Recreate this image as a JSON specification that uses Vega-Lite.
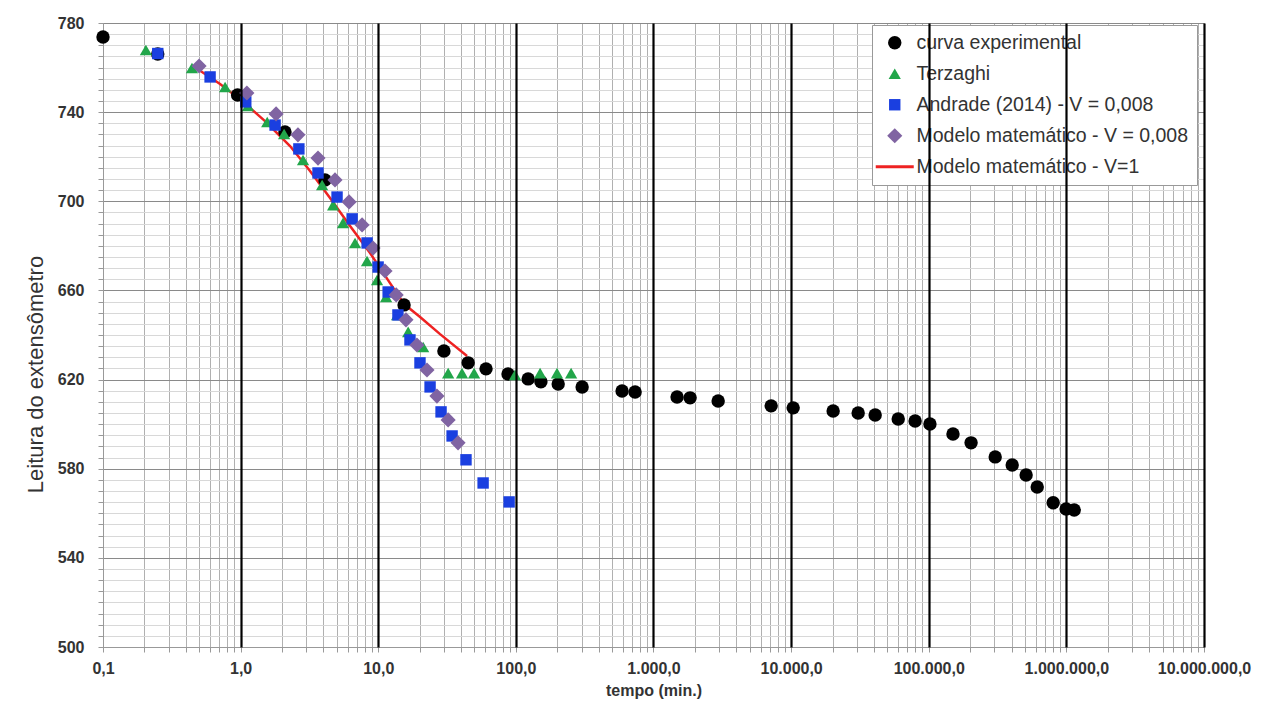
{
  "$schema": "https://vega.github.io/schema/vega-lite/v6.json",
  "width": 1101,
  "height": 624,
  "autosize": "none",
  "padding": {"left": 103, "top": 23, "right": 57, "bottom": 60},
  "background": "white",
  "config": {
    "locale": {"number": {"decimal": ",", "thousands": ".", "grouping": [3], "currency": ["R$", ""]}},
    "view": {"stroke": "#888888", "strokeWidth": 1},
    "font": "Liberation Sans"
  },
  "datasets": {
    "pts": [
      {"s": "curva experimental", "t": 0.1, "v": 773.7},
      {"s": "curva experimental", "t": 0.25, "v": 766.1},
      {"s": "curva experimental", "t": 0.95, "v": 747.7},
      {"s": "curva experimental", "t": 2.1, "v": 731.1},
      {"s": "curva experimental", "t": 4.1, "v": 709.6},
      {"s": "curva experimental", "t": 15.4, "v": 653.5},
      {"s": "curva experimental", "t": 30, "v": 632.8},
      {"s": "curva experimental", "t": 45, "v": 627.5},
      {"s": "curva experimental", "t": 60.7, "v": 624.8},
      {"s": "curva experimental", "t": 87.7, "v": 622.5},
      {"s": "curva experimental", "t": 122.8, "v": 620.3},
      {"s": "curva experimental", "t": 152, "v": 619.0},
      {"s": "curva experimental", "t": 203, "v": 618.0},
      {"s": "curva experimental", "t": 303, "v": 616.7},
      {"s": "curva experimental", "t": 591, "v": 614.9},
      {"s": "curva experimental", "t": 735, "v": 614.4},
      {"s": "curva experimental", "t": 1483, "v": 612.2},
      {"s": "curva experimental", "t": 1845, "v": 611.8},
      {"s": "curva experimental", "t": 2950, "v": 610.4},
      {"s": "curva experimental", "t": 7160, "v": 608.2},
      {"s": "curva experimental", "t": 10350, "v": 607.3},
      {"s": "curva experimental", "t": 20200, "v": 605.9},
      {"s": "curva experimental", "t": 30700, "v": 605.0},
      {"s": "curva experimental", "t": 40800, "v": 604.1},
      {"s": "curva experimental", "t": 60000, "v": 602.3},
      {"s": "curva experimental", "t": 79600, "v": 601.4},
      {"s": "curva experimental", "t": 102000, "v": 600.1},
      {"s": "curva experimental", "t": 150000, "v": 595.6},
      {"s": "curva experimental", "t": 203000, "v": 591.6},
      {"s": "curva experimental", "t": 304000, "v": 585.3},
      {"s": "curva experimental", "t": 404000, "v": 581.7},
      {"s": "curva experimental", "t": 510000, "v": 577.2},
      {"s": "curva experimental", "t": 614000, "v": 571.8},
      {"s": "curva experimental", "t": 802000, "v": 564.7},
      {"s": "curva experimental", "t": 996000, "v": 561.9},
      {"s": "curva experimental", "t": 1140000, "v": 561.5},
      {"s": "Terzaghi", "t": 0.205, "v": 767.9},
      {"s": "Terzaghi", "t": 0.443, "v": 759.8},
      {"s": "Terzaghi", "t": 0.771, "v": 751.3},
      {"s": "Terzaghi", "t": 1.13, "v": 742.8},
      {"s": "Terzaghi", "t": 1.56, "v": 735.6},
      {"s": "Terzaghi", "t": 2.07, "v": 730.2},
      {"s": "Terzaghi", "t": 2.84, "v": 718.5},
      {"s": "Terzaghi", "t": 3.91, "v": 707.3},
      {"s": "Terzaghi", "t": 4.7, "v": 698.3},
      {"s": "Terzaghi", "t": 5.55, "v": 690.3},
      {"s": "Terzaghi", "t": 6.78, "v": 681.3},
      {"s": "Terzaghi", "t": 8.29, "v": 673.2},
      {"s": "Terzaghi", "t": 9.8, "v": 664.7},
      {"s": "Terzaghi", "t": 11.4, "v": 657.1},
      {"s": "Terzaghi", "t": 13.7, "v": 649.0},
      {"s": "Terzaghi", "t": 16.5, "v": 641.4},
      {"s": "Terzaghi", "t": 21.2, "v": 634.6},
      {"s": "Terzaghi", "t": 32.2, "v": 622.9},
      {"s": "Terzaghi", "t": 40.6, "v": 622.9},
      {"s": "Terzaghi", "t": 49.7, "v": 622.9},
      {"s": "Terzaghi", "t": 98.6, "v": 622.1},
      {"s": "Terzaghi", "t": 150, "v": 622.9},
      {"s": "Terzaghi", "t": 199, "v": 622.9},
      {"s": "Terzaghi", "t": 252, "v": 622.9},
      {"s": "Andrade (2014) - V = 0,008", "t": 0.25, "v": 766.3},
      {"s": "Andrade (2014) - V = 0,008", "t": 0.6, "v": 755.8},
      {"s": "Andrade (2014) - V = 0,008", "t": 1.09, "v": 744.6},
      {"s": "Andrade (2014) - V = 0,008", "t": 1.78, "v": 734.2},
      {"s": "Andrade (2014) - V = 0,008", "t": 2.65, "v": 723.5},
      {"s": "Andrade (2014) - V = 0,008", "t": 3.65, "v": 712.7},
      {"s": "Andrade (2014) - V = 0,008", "t": 5.02, "v": 701.9},
      {"s": "Andrade (2014) - V = 0,008", "t": 6.46, "v": 692.1},
      {"s": "Andrade (2014) - V = 0,008", "t": 8.3, "v": 681.3},
      {"s": "Andrade (2014) - V = 0,008", "t": 9.98, "v": 670.5},
      {"s": "Andrade (2014) - V = 0,008", "t": 11.8, "v": 659.3},
      {"s": "Andrade (2014) - V = 0,008", "t": 13.9, "v": 649.0},
      {"s": "Andrade (2014) - V = 0,008", "t": 17.0, "v": 637.8},
      {"s": "Andrade (2014) - V = 0,008", "t": 20.1, "v": 627.5},
      {"s": "Andrade (2014) - V = 0,008", "t": 23.8, "v": 616.7},
      {"s": "Andrade (2014) - V = 0,008", "t": 28.6, "v": 605.5},
      {"s": "Andrade (2014) - V = 0,008", "t": 34.4, "v": 594.7},
      {"s": "Andrade (2014) - V = 0,008", "t": 43.4, "v": 584.0},
      {"s": "Andrade (2014) - V = 0,008", "t": 57.8, "v": 573.6},
      {"s": "Andrade (2014) - V = 0,008", "t": 89.3, "v": 565.1},
      {"s": "Modelo matemático - V = 0,008", "t": 0.499, "v": 760.7},
      {"s": "Modelo matemático - V = 0,008", "t": 1.11, "v": 748.6},
      {"s": "Modelo matemático - V = 0,008", "t": 1.81, "v": 739.2},
      {"s": "Modelo matemático - V = 0,008", "t": 2.61, "v": 729.8},
      {"s": "Modelo matemático - V = 0,008", "t": 3.65, "v": 719.4},
      {"s": "Modelo matemático - V = 0,008", "t": 4.85, "v": 709.6},
      {"s": "Modelo matemático - V = 0,008", "t": 6.14, "v": 699.7},
      {"s": "Modelo matemático - V = 0,008", "t": 7.63, "v": 689.4},
      {"s": "Modelo matemático - V = 0,008", "t": 9.17, "v": 679.0},
      {"s": "Modelo matemático - V = 0,008", "t": 11.2, "v": 668.7},
      {"s": "Modelo matemático - V = 0,008", "t": 13.5, "v": 658.0},
      {"s": "Modelo matemático - V = 0,008", "t": 15.9, "v": 646.8},
      {"s": "Modelo matemático - V = 0,008", "t": 19.1, "v": 635.5},
      {"s": "Modelo matemático - V = 0,008", "t": 22.6, "v": 624.3},
      {"s": "Modelo matemático - V = 0,008", "t": 26.7, "v": 612.6},
      {"s": "Modelo matemático - V = 0,008", "t": 32.2, "v": 601.9},
      {"s": "Modelo matemático - V = 0,008", "t": 38.0, "v": 591.6}
    ],
    "line": [
      {"t": 0.474, "v": 759.8},
      {"t": 0.709, "v": 752.6},
      {"t": 1.007, "v": 745.4},
      {"t": 1.504, "v": 736.0},
      {"t": 2.286, "v": 724.8},
      {"t": 3.195, "v": 713.6},
      {"t": 4.464, "v": 701.5},
      {"t": 6.24, "v": 688.9},
      {"t": 8.718, "v": 676.8},
      {"t": 12.18, "v": 663.3},
      {"t": 15.4, "v": 653.9},
      {"t": 20.13, "v": 648.1},
      {"t": 28.13, "v": 640.4},
      {"t": 44.19, "v": 630.6}
    ]
  },
  "encoding": {
    "y": {
      "field": "v",
      "type": "quantitative",
      "title": "Leitura do extensômetro",
      "scale": {"domain": [500, 780], "nice": false, "zero": false},
      "axis": {
        "values": [500,505,510,515,520,525,530,535,540,545,550,555,560,565,570,575,580,585,590,595,600,605,610,615,620,625,630,635,640,645,650,655,660,665,670,675,680,685,690,695,700,705,710,715,720,725,730,735,740,745,750,755,760,765,770,775,780],
        "labelExpr": "datum.value % 40 == 20 ? datum.label : ''",
        "labelOverlap": false,
        "labelFlush": false,
        "labelFont": "Liberation Sans",
        "labelFontWeight": "bold",
        "labelFontSize": 16,
        "labelColor": "#333333",
        "labelPadding": 14,
        "grid": true,
        "gridColor": {"condition": {"test": "datum.value % 40 == 20", "value": "#8a8a8a"}, "value": "#d8d8d8"},
        "ticks": true,
        "tickSize": 5,
        "tickColor": "#999999",
        "domainColor": "#999999",
        "titleFont": "Liberation Sans",
        "titleFontWeight": "normal",
        "titleFontSize": 22,
        "titleColor": "#333333",
        "titleX": -56,
        "titleY": 351
      }
    }
  },
  "layer": [
    {
      "data": {"name": "line"},
      "mark": {"type": "line", "color": "#ee2222", "strokeWidth": 2.5},
      "encoding": {
        "x": {
          "field": "t",
          "type": "quantitative",
          "title": null,
          "scale": {"type": "log", "domain": [0.1, 10000000], "nice": false},
          "axis": {
            "orient": "bottom",
            "values": [1, 10, 100, 1000, 10000, 100000, 1000000, 10000000],
            "labels": false,
            "ticks": false,
            "domain": false,
            "grid": true,
            "gridColor": "#000000",
            "gridWidth": 2.2,
            "zindex": 1
          }
        }
      }
    },
    {
      "data": {"name": "pts"},
      "mark": {"type": "point", "filled": true, "opacity": 1},
      "encoding": {
        "x": {
          "field": "t",
          "type": "quantitative",
          "title": "tempo (min.)",
          "scale": {"type": "log", "domain": [0.1, 10000000], "nice": false},
          "axis": {
            "orient": "bottom",
            "values": [0.1,0.2,0.3,0.4,0.5,0.6,0.7,0.8,0.9,1,2,3,4,5,6,7,8,9,10,20,30,40,50,60,70,80,90,100,200,300,400,500,600,700,800,900,1000,2000,3000,4000,5000,6000,7000,8000,9000,10000,20000,30000,40000,50000,60000,70000,80000,90000,100000,200000,300000,400000,500000,600000,700000,800000,900000,1000000,2000000,3000000,4000000,5000000,6000000,7000000,8000000,9000000,10000000],
            "format": ",.1f",
            "labelExpr": "abs(log(datum.value)/LN10 - round(log(datum.value)/LN10)) < 0.001 ? datum.label : ''",
            "labelOverlap": false,
            "labelFlush": false,
            "labelFont": "Liberation Sans",
            "labelFontWeight": "bold",
            "labelFontSize": 16,
            "labelColor": "#333333",
            "labelPadding": 8,
            "grid": true,
            "gridColor": "#b0b0b0",
            "gridWidth": 1,
            "ticks": true,
            "tickSize": 5,
            "tickColor": "#999999",
            "domainColor": "#999999",
            "titleFont": "Liberation Sans",
            "titleFontWeight": "bold",
            "titleFontSize": 16,
            "titleColor": "#333333",
            "titlePadding": 6,
            "zindex": 0
          }
        },
        "color": {
          "field": "s",
          "type": "nominal",
          "scale": {
            "domain": ["curva experimental", "Terzaghi", "Andrade (2014) - V = 0,008", "Modelo matemático - V = 0,008", "Modelo matemático - V=1"],
            "range": ["#000000", "#22a64a", "#1a3fe0", "#8064a2", "#ee2222"]
          },
          "legend": {
            "title": null,
            "orient": "none",
            "legendX": 769,
            "legendY": 2,
            "labelFont": "Liberation Sans",
            "labelFontSize": 19.5,
            "labelColor": "#333333",
            "labelLimit": 0,
            "symbolSize": 110,
            "fillColor": "white",
            "strokeColor": "#999999",
            "padding": 8,
            "rowPadding": 10,
            "symbolOffset": 5,
            "labelOffset": 12
          }
        },
        "shape": {
          "field": "s",
          "type": "nominal",
          "scale": {
            "domain": ["curva experimental", "Terzaghi", "Andrade (2014) - V = 0,008", "Modelo matemático - V = 0,008", "Modelo matemático - V=1"],
            "range": ["circle", "triangle-up", "square", "diamond", "M-3.8,-0.3H3.8V0.3H-3.8Z"]
          },
          "legend": {
            "title": null,
            "orient": "none",
            "legendX": 769,
            "legendY": 2,
            "labelFont": "Liberation Sans",
            "labelFontSize": 19.5,
            "labelColor": "#333333",
            "labelLimit": 0,
            "symbolSize": 110,
            "fillColor": "white",
            "strokeColor": "#999999",
            "padding": 8,
            "rowPadding": 10,
            "symbolOffset": 5,
            "labelOffset": 12
          }
        },
        "size": {
          "field": "s",
          "type": "ordinal",
          "scale": {
            "type": "ordinal",
            "domain": ["curva experimental", "Terzaghi", "Andrade (2014) - V = 0,008", "Modelo matemático - V = 0,008", "Modelo matemático - V=1"],
            "range": [180, 150, 130, 230, 100]
          },
          "legend": null
        }
      }
    }
  ],
  "resolve": {"axis": {"x": "independent"}}
}
